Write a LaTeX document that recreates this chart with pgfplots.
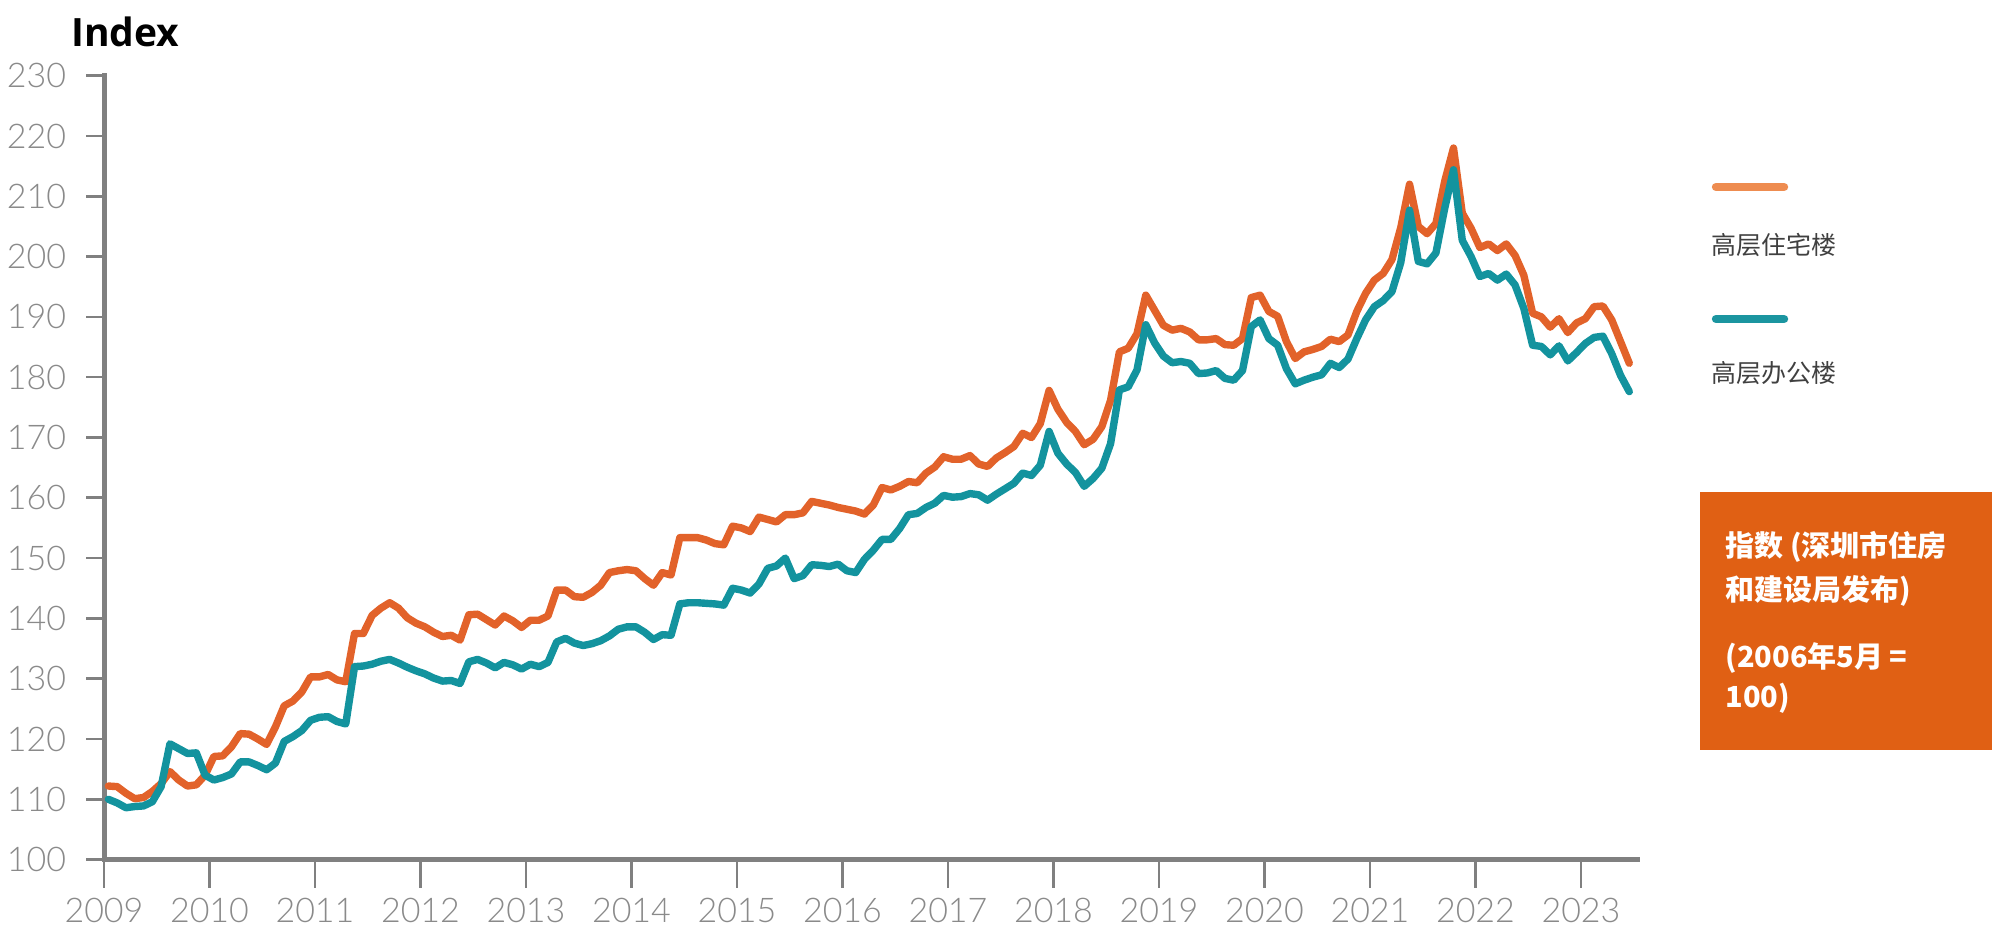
\documentclass[border=0pt]{standalone}
\usepackage{pgfplots}
\pgfplotsset{compat=1.18}
\usepackage{pgfplotstable}
\usepackage{fontspec}
\setmainfont{Open Sans}
\newfontfamily\lightf{Lato Light}
\newfontfamily\cjk{Noto Sans CJK SC}
\definecolor{resc}{HTML}{E2622A}
\definecolor{offc}{HTML}{13939E}
\definecolor{legres}{HTML}{EE8C50}
\definecolor{legoff}{HTML}{1B95A0}
\definecolor{boxc}{HTML}{E06014}
\definecolor{axisgray}{HTML}{808080}
\definecolor{ticklab}{HTML}{8A8A8A}

\pgfplotstableread{
m res off
0 112.2 110.0
1 112.1 109.4
2 111.0 108.6
3 110.1 108.8
4 110.3 108.9
5 111.3 109.6
6 112.6 112.1
7 114.6 119.2
8 113.2 118.4
9 112.2 117.6
10 112.4 117.7
11 114.0 114.0
12 117.1 113.2
13 117.2 113.6
14 118.7 114.2
15 120.9 116.2
16 120.8 116.2
17 120.0 115.6
18 119.1 114.9
19 122.0 116.0
20 125.5 119.6
21 126.3 120.4
22 127.8 121.4
23 130.3 123.1
24 130.3 123.6
25 130.7 123.7
26 129.8 122.9
27 129.5 122.5
28 137.5 132.0
29 137.5 132.1
30 140.5 132.4
31 141.7 132.9
32 142.6 133.2
33 141.7 132.6
34 140.1 131.9
35 139.2 131.3
36 138.6 130.8
37 137.7 130.1
38 137.0 129.6
39 137.2 129.7
40 136.4 129.2
41 140.6 132.8
42 140.7 133.2
43 139.8 132.6
44 138.9 131.8
45 140.4 132.7
46 139.6 132.3
47 138.5 131.6
48 139.7 132.4
49 139.7 132.0
50 140.4 132.7
51 144.7 136.1
52 144.7 136.7
53 143.6 135.9
54 143.5 135.5
55 144.3 135.8
56 145.5 136.3
57 147.6 137.1
58 147.9 138.2
59 148.1 138.6
60 147.9 138.6
61 146.6 137.7
62 145.5 136.5
63 147.6 137.3
64 147.2 137.2
65 153.4 142.4
66 153.4 142.6
67 153.4 142.6
68 153.0 142.5
69 152.4 142.4
70 152.2 142.2
71 155.3 145.0
72 155.0 144.7
73 154.4 144.2
74 156.8 145.7
75 156.4 148.3
76 156.0 148.7
77 157.2 150.0
78 157.2 146.6
79 157.5 147.1
80 159.4 148.9
81 159.1 148.8
82 158.8 148.6
83 158.4 149.0
84 158.1 147.9
85 157.8 147.6
86 157.3 149.8
87 158.8 151.3
88 161.7 153.1
89 161.3 153.1
90 161.9 154.9
91 162.7 157.2
92 162.5 157.4
93 164.1 158.4
94 165.1 159.1
95 166.8 160.4
96 166.4 160.1
97 166.4 160.2
98 167.0 160.7
99 165.6 160.5
100 165.2 159.6
101 166.6 160.6
102 167.5 161.5
103 168.5 162.4
104 170.7 164.1
105 170.0 163.7
106 172.3 165.4
107 177.8 171.0
108 174.7 167.4
109 172.5 165.6
110 171.0 164.2
111 168.8 161.9
112 169.7 163.2
113 171.8 164.9
114 176.2 169.0
115 184.2 177.9
116 184.8 178.4
117 187.2 181.2
118 193.6 188.7
119 191.1 185.7
120 188.6 183.5
121 187.8 182.4
122 188.1 182.6
123 187.5 182.3
124 186.2 180.6
125 186.2 180.7
126 186.4 181.1
127 185.4 179.8
128 185.3 179.5
129 186.4 181.1
130 193.2 188.4
131 193.6 189.5
132 190.9 186.4
133 190.1 185.3
134 185.9 181.4
135 183.1 178.9
136 184.2 179.5
137 184.6 180.0
138 185.1 180.4
139 186.3 182.3
140 185.9 181.6
141 187.0 183.0
142 190.9 186.4
143 193.9 189.5
144 196.1 191.7
145 197.2 192.7
146 199.5 194.2
147 204.8 199.0
148 212.0 207.7
149 205.0 199.2
150 203.8 198.8
151 205.5 200.6
152 212.5 208.0
153 218.0 214.4
154 207.2 202.7
155 204.7 200.0
156 201.5 196.7
157 202.1 197.2
158 201.0 196.1
159 202.1 197.1
160 200.2 195.3
161 196.9 191.4
162 190.6 185.3
163 190.0 185.1
164 188.3 183.7
165 189.7 185.2
166 187.4 182.7
167 189.0 184.1
168 189.7 185.6
169 191.7 186.6
170 191.8 186.8
171 189.5 183.9
172 185.9 180.3
173 182.3 177.6
}\datatable

\pgfplotsset{
  base/.style={
    scale only axis, width=766.5pt, height=391.95pt,
    xmin=2009, xmax=2023.531, ymin=100, ymax=230,
    at={(52pt,33.2pt)}, anchor=south west,
    tick align=outside,
    axis line style={axisgray, line width=2.5pt, line cap=rect},
    tick style={axisgray, line width=1.3pt},
    /pgf/number format/assume math mode=true,
    /pgf/number format/1000 sep={},
  }
}

\begin{document}
\begin{tikzpicture}
\path[use as bounding box] (0,0) rectangle (996pt,463pt);

% medium mid-year ticks (minor ticks, no labels)
\begin{axis}[base, hide y axis, axis x line*=bottom,
  xtick=\empty, minor xtick={2009.5,2010.5,...,2022.5},
  minor tick length=11.5pt]
\end{axis}

% y axis
\begin{axis}[base, hide x axis, axis y line*=left,
  xtick=\empty, ytick={100,110,...,230},
  major tick length=9pt,
  yticklabel style={font=\lightf\fontsize{17}{19}\selectfont, text=ticklab, xshift=-6.5pt}]
\end{axis}

% main axis with data and x ticks
\begin{axis}[base, axis x line*=bottom, axis y line*=left,
  ytick=\empty,
  xtick={2009,2010,...,2023}, minor x tick num=3,
  major tick length=14pt, minor tick length=6.5pt,
  xticklabel style={font=\lightf\fontsize{17}{19}\selectfont, text=ticklab, yshift=-2pt}]
\addplot[resc, line width=3.7pt, line join=round, line cap=round]
  table[x expr={2009+(\thisrow{m}+0.5)/12}, y=res] {\datatable};
\addplot[offc, line width=3.7pt, line join=round, line cap=round]
  table[x expr={2009+(\thisrow{m}+0.5)/12}, y=off] {\datatable};
\end{axis}

% title
\node[anchor=base west, inner sep=0pt, font=\fontsize{19.5}{24}\selectfont\bfseries]
  at (35.5pt,439.5pt) {Index};

% legend
\draw[legres, line width=4.2pt, line cap=round] (858pt,369.5pt) -- (892pt,369.5pt);
\node[anchor=base west, inner sep=0pt, text=black!75, font=\cjk\fontsize{12.5}{15}\selectfont]
  at (855.5pt,335.8pt) {高层住宅楼};
\draw[legoff, line width=4.2pt, line cap=round] (858pt,303.5pt) -- (892pt,303.5pt);
\node[anchor=base west, inner sep=0pt, text=black!75, font=\cjk\fontsize{12.5}{15}\selectfont]
  at (855.5pt,271.8pt) {高层办公楼};

% orange note box
\fill[boxc] (850pt,88pt) rectangle (996pt,217pt);
\begin{scope}[every node/.style={anchor=base west, inner sep=0pt, text=white,
   font=\cjk\bfseries\fontsize{14.5}{17}\selectfont}]
\node at (862.5pt,184.7pt) {指数 (深圳市住房};
\node at (862.5pt,162.7pt) {和建设局发布)};
\node at (862.5pt,129.2pt) {(2006年5月 =};
\node at (862.5pt,109.2pt) {100)};
\end{scope}
\end{tikzpicture}
\end{document}
